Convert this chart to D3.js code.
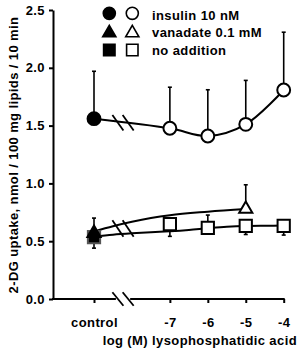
<!DOCTYPE html>
<html>
<head>
<meta charset="utf-8">
<script src="https://cdn.jsdelivr.net/npm/d3@7"></script>
<style>
  body { margin: 0; background: #fff; }
  svg { display: block; font-family: "Liberation Sans", Arial, sans-serif; font-weight: bold; letter-spacing: 0.4px; }
</style>
</head>
<body>
<svg width="301" height="351"></svg>
<script>
let width = 301;
let height = 351;

// x positions in log(M); "control" sits at -9 on the broken axis
let doses = [-9, -7, -6, -5, -4];
let tickLabels = ["control", "-7", "-6", "-5", "-4"];

let insulinMean = [1.56, 1.477, 1.41, 1.511, 1.808];
let insulinErr = [0.41, 0.355, 0.40, 0.38, 0.50];

let vanadateDoses = [-9, -5];
let vanadateMean = [0.57, 0.778];
let vanadateErr = [0.13, 0.21];

let noAddMean = [0.535, 0.647, 0.616, 0.633, 0.633];
let noAddErr = [-0.095, -0.105, 0.11, -0.075, -0.08];

// fitted curves drawn through the lower groups
let vanadateFitX = [-9, -8.5, -8, -7.5, -7, -6, -5];
let vanadateFit = [0.585, 0.63, 0.668, 0.70, 0.725, 0.755, 0.778];
let noAddFitX = [-9, -8.5, -8, -7.5, -7, -6.5, -6, -5.5, -5, -4.5, -4];
let noAddFit = [0.54, 0.556, 0.568, 0.578, 0.586, 0.597, 0.612, 0.625, 0.632, 0.634, 0.635];

let legendLabels = ["insulin 10 nM", "vanadate 0.1 mM", "no addition"];
let yTicks = [0, 0.5, 1.0, 1.5, 2.0, 2.5];

const svg = d3.select("svg");
const fontSize = 13;

let x = d3.scaleLinear().domain([-9, -4]).range([94, 283.7]);
let y = d3.scaleLinear().domain([0, 2.5]).range([299, 10]);
let axisLeftX = 53;
let breakX = [-8.37, -8.1];

// y axis
svg.append("g")
    .attr("transform", `translate(${axisLeftX},0)`)
    .call(d3.axisLeft(y).tickValues(yTicks).tickFormat(d3.format(".1f")).tickSize(4).tickSizeOuter(0).tickPadding(4))
    .call(g => g.selectAll("path, line").attr("stroke", "#000").attr("stroke-width", 2))
    .call(g => g.selectAll("text").attr("font-size", fontSize).attr("font-family", "Liberation Sans, Arial, sans-serif").attr("font-weight", "bold").attr("fill", "#000"));

// x axis (domain line replaced by a broken line)
svg.append("g")
    .attr("transform", `translate(0,${y(0)})`)
    .call(d3.axisBottom(x).tickValues(doses).tickFormat((d, i) => tickLabels[i]).tickSize(4).tickPadding(15))
    .call(g => g.select(".domain").remove())
    .call(g => g.selectAll("line").attr("stroke", "#000").attr("stroke-width", 2))
    .call(g => g.selectAll("text").attr("font-size", fontSize).attr("font-family", "Liberation Sans, Arial, sans-serif").attr("font-weight", "bold").attr("fill", "#000"));

svg.append("line")
    .attr("x1", axisLeftX - 1).attr("x2", x(breakX[0]) - 2)
    .attr("y1", y(0)).attr("y2", y(0))
    .attr("stroke", "#000").attr("stroke-width", 2);
svg.append("line")
    .attr("x1", x(breakX[1]) + 2).attr("x2", x(-4) + 1)
    .attr("y1", y(0)).attr("y2", y(0))
    .attr("stroke", "#000").attr("stroke-width", 2);

// axis titles
svg.append("text")
    .attr("transform", `translate(18,155) rotate(-90)`)
    .attr("text-anchor", "middle")
    .attr("font-size", fontSize)
    .text("2-DG uptake, nmol / 100 mg lipids / 10 min");

svg.append("text")
    .attr("x", 297).attr("y", 345)
    .attr("text-anchor", "end")
    .attr("font-size", fontSize)
    .text("log (M) lysophosphatidic acid");

// error bars
function errorBars(xs, means, errs) {
    let g = svg.append("g").attr("stroke", "#000").attr("stroke-width", 1.6);
    xs.forEach((d, i) => {
        let y0 = y(means[i]), y1 = y(means[i] + errs[i]);
        g.append("line").attr("x1", x(d)).attr("x2", x(d)).attr("y1", y0).attr("y2", y1);
        g.append("line").attr("x1", x(d) - 2).attr("x2", x(d) + 2).attr("y1", y1).attr("y2", y1);
    });
}
errorBars(doses, insulinMean, insulinErr);
errorBars(vanadateDoses, vanadateMean, vanadateErr);
errorBars(doses, noAddMean, noAddErr);

// curves
let line = d3.line().x(d => x(d[0])).y(d => y(d[1]));
svg.append("path")
    .datum(d3.zip(doses, insulinMean))
    .attr("d", line.curve(d3.curveCatmullRom.alpha(0.5)))
    .attr("fill", "none").attr("stroke", "#000").attr("stroke-width", 2);
svg.append("path")
    .datum(d3.zip(vanadateFitX, vanadateFit))
    .attr("d", line.curve(d3.curveMonotoneX))
    .attr("fill", "none").attr("stroke", "#000").attr("stroke-width", 2);
svg.append("path")
    .datum(d3.zip(noAddFitX, noAddFit))
    .attr("d", line.curve(d3.curveMonotoneX))
    .attr("fill", "none").attr("stroke", "#000").attr("stroke-width", 2);

// markers
let sq = d3.symbol().type(d3.symbolSquare).size(150);
let tri = d3.symbol().type(d3.symbolTriangle).size(75);

function markers(xs, means, kind) {
    svg.append("g").selectAll("path")
        .data(d3.zip(xs, means))
        .join("path")
        .attr("transform", d => `translate(${x(d[0])},${y(d[1])})`)
        .attr("d", (d, i) => {
            if (kind === "circle") return d3.symbol().type(d3.symbolCircle).size(130)();
            if (kind === "triangle") return tri();
            return sq();
        })
        .attr("fill", d => d[0] === -9 ? "#000" : "#fff")
        .attr("stroke", d => d[0] === -9 && kind === "square" ? "#555" : "#000")
        .attr("stroke-width", 2);
}
markers(doses, noAddMean, "square");
markers(vanadateDoses, vanadateMean, "triangle");
markers(doses, insulinMean, "circle");

// axis break marks
function breakMarks(cy, half) {
    let g = svg.append("g").attr("stroke", "#000").attr("stroke-width", 1.8);
    breakX.forEach(b => {
        g.append("line")
            .attr("x1", x(b) - 5.5).attr("y1", cy - half)
            .attr("x2", x(b) + 5.5).attr("y2", cy + half);
    });
}
breakMarks(y(1.525), 7.8);
breakMarks(y(0.61), 8.3);
breakMarks(y(0), 6.8);

// legend
let legendY = [13.3, 33, 50];
let legendShapes = [d3.symbolCircle, d3.symbolTriangle, d3.symbolSquare];
let legendSizes = [115, 75, 130];
let legend = svg.append("g");
legendLabels.forEach((label, i) => {
    [109.3, 132.3].forEach((lx, j) => {
        legend.append("path")
            .attr("transform", `translate(${lx},${legendY[i]})`)
            .attr("d", d3.symbol().type(legendShapes[i]).size(legendSizes[i])())
            .attr("fill", j === 0 ? "#000" : "#fff")
            .attr("stroke", "#000")
            .attr("stroke-width", 1.6);
    });
    legend.append("text")
        .attr("x", 152)
        .attr("y", [20, 37.2, 54.6][i])
        .attr("font-size", fontSize)
        .text(label);
});
</script>
</body>
</html>
